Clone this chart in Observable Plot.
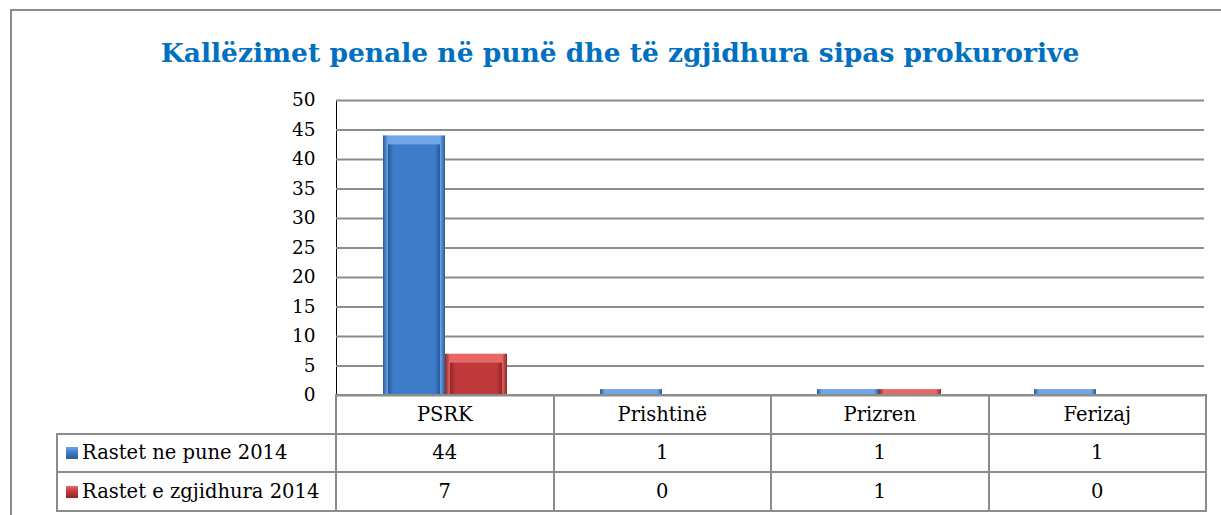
<!DOCTYPE html>
<html>
<head>
<meta charset="utf-8">
<script src="https://cdn.jsdelivr.net/npm/d3@7"></script>
<script src="https://cdn.jsdelivr.net/npm/@observablehq/plot@0.6"></script>
<style>
  html, body { margin: 0; padding: 0; background: #fff; }
  #wrap { position: relative; width: 1221px; height: 515px; overflow: hidden; background: #fff;
          font-family: "DejaVu Serif", "Liberation Serif", serif; }
  #frame { position: absolute; left: 10px; top: 9px; right: -10px; bottom: -10px;
           border-top: 2px solid #8c8c8c; border-left: 2px solid #8c8c8c; }
  #title { position: absolute; left: 0; width: 1240px; top: 37px; text-align: center;
           color: #0070C0; font-weight: bold; font-size: 26.5px; }
  #chart { position: absolute; left: 0; top: 0; }
  #tbl { position: absolute; left: 56px; top: 394px; border-collapse: collapse; table-layout: fixed;
         font-size: 19.5px; color: #000; }
  #tbl td { border: 2px solid #8c8c8c; text-align: center; padding: 0; height: 36.5px; white-space: nowrap; }
  #tbl td.blank { border-top: hidden; border-left: hidden; border-bottom: 2px solid #8c8c8c; }
  #tbl td.lab { text-align: left; padding-left: 8px; }
  .mk { display: inline-block; width: 12px; height: 12px; margin-right: 4px; vertical-align: 0px; }
</style>
</head>
<body>
<div id="wrap">
  <div id="frame"></div>
  <div id="title"></div>
  <div id="chart"></div>
  <table id="tbl"></table>
</div>
<script>
const title = "Kallëzimet penale në punë dhe të zgjidhura sipas prokurorive";
const categories = ["PSRK", "Prishtinë", "Prizren", "Ferizaj"];
const seriesNames = ["Rastet ne pune 2014", "Rastet e zgjidhura 2014"];
const rastetNePune = [44, 1, 1, 1];
const rastetZgjidhura = [7, 0, 1, 0];
const yTicks = [0, 5, 10, 15, 20, 25, 30, 35, 40, 45, 50];
const seriesColors = ["#3d7cc9", "#c0393a"];
const seriesLight = ["#6ea6e8", "#e86666"];
const seriesDark = ["#2a5a9a", "#8f2626"];

document.getElementById("title").textContent = title;

const valuesBySeries = [rastetNePune, rastetZgjidhura];
const data = [];
categories.forEach((c, i) => {
  seriesNames.forEach((s, j) => data.push({category: c, series: s, value: valuesBySeries[j][i], idx: j}));
});

const chart = Plot.plot({
  width: 1221,
  height: 420,
  marginTop: 100,
  marginBottom: 25,
  marginLeft: 335,
  marginRight: 16,
  style: {fontFamily: '"DejaVu Serif", "Liberation Serif", serif', fontSize: "18.5px", color: "#000", background: "transparent", overflow: "visible"},
  fx: {domain: categories, padding: 0, axis: null},
  x: {domain: seriesNames, paddingInner: 0, paddingOuter: 0.74, axis: null},
  y: {domain: [0, 50], ticks: yTicks, tickSize: 0, tickPadding: 21, label: null, line: true},
  marks: [
    Plot.ruleY(yTicks, {stroke: "#8c8c8c", strokeWidth: 2}),
    Plot.barY(data, {fx: "category", x: "series", y: "value", fill: d => "url(#side" + d.idx + ")"}),
    Plot.barY(data, {fx: "category", x: "series", y: "value", insetTop: 9, insetLeft: 5, insetRight: 5, insetBottom: 0, fill: d => "url(#main" + d.idx + ")"})
  ]
});

// gradient definitions used by the bar fills
const ns = "http://www.w3.org/2000/svg";
const defs = document.createElementNS(ns, "defs");
seriesColors.forEach((c, j) => {
  const g1 = document.createElementNS(ns, "linearGradient");
  g1.setAttribute("id", "side" + j);
  g1.setAttribute("x1", "0"); g1.setAttribute("x2", "1"); g1.setAttribute("y1", "0"); g1.setAttribute("y2", "0");
  [[0, seriesDark[j]], [0.08, seriesLight[j]], [0.92, seriesLight[j]], [1, seriesDark[j]]].forEach(([o, col]) => {
    const s = document.createElementNS(ns, "stop"); s.setAttribute("offset", o); s.setAttribute("stop-color", col); g1.appendChild(s);
  });
  defs.appendChild(g1);
  const g2 = document.createElementNS(ns, "linearGradient");
  g2.setAttribute("id", "main" + j);
  g2.setAttribute("x1", "0"); g2.setAttribute("x2", "1"); g2.setAttribute("y1", "0"); g2.setAttribute("y2", "0");
  [[0, seriesDark[j]], [0.1, c], [0.9, c], [1, seriesDark[j]]].forEach(([o, col]) => {
    const s = document.createElementNS(ns, "stop"); s.setAttribute("offset", o); s.setAttribute("stop-color", col); g2.appendChild(s);
  });
  defs.appendChild(g2);
});
chart.insertBefore(defs, chart.firstChild);
chart.querySelectorAll('[aria-label="y-axis line"], [aria-label="y-axis"] path').forEach(e => e.setAttribute("stroke", "#8c8c8c"));
document.getElementById("chart").appendChild(chart);

// data table under the chart
const tbl = document.getElementById("tbl");
const colgroup = document.createElement("colgroup");
[279, 217.5, 217.5, 217.5, 217.5].forEach(w => { const c = document.createElement("col"); c.style.width = w + "px"; colgroup.appendChild(c); });
tbl.appendChild(colgroup);
const head = document.createElement("tr");
const blank = document.createElement("td"); blank.className = "blank"; head.appendChild(blank);
categories.forEach(c => { const td = document.createElement("td"); td.textContent = c; head.appendChild(td); });
tbl.appendChild(head);
seriesNames.forEach((s, j) => {
  const tr = document.createElement("tr");
  const lab = document.createElement("td"); lab.className = "lab";
  const mk = document.createElement("span"); mk.className = "mk";
  mk.style.background = `linear-gradient(180deg, ${seriesLight[j]} 0%, ${seriesColors[j]} 45%, ${seriesDark[j]} 100%)`;
  lab.appendChild(mk); lab.appendChild(document.createTextNode(s));
  tr.appendChild(lab);
  valuesBySeries[j].forEach(v => { const td = document.createElement("td"); td.textContent = v; tr.appendChild(td); });
  tbl.appendChild(tr);
});
</script>
</body>
</html>
